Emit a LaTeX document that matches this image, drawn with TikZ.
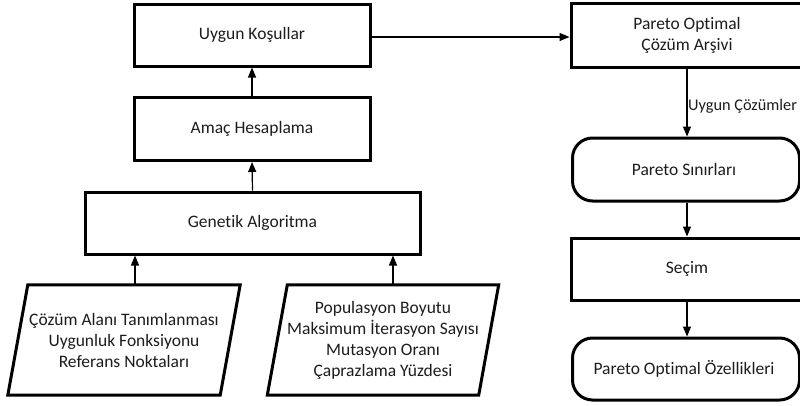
\documentclass[tikz,border=0pt]{standalone}
\usepackage{fontspec}
\setmainfont{Carlito}[Ligatures={NoCommon}]
\usetikzlibrary{arrows.meta}
\definecolor{txt}{HTML}{1C1C1C}
\tikzset{
  box/.style={draw, line width=3pt, inner sep=0pt, align=center, text=txt,
    font=\fontsize{17.5}{21}\selectfont},
  rectbox/.style={box, rectangle},
  roundbox/.style={box, rectangle, rounded corners=20pt},
  databox/.style={rectangle, inner sep=0pt, align=center, text=txt,
    font=\fontsize{17.5}{21}\selectfont},
  para/.style={line width=3pt, line join=miter},
  arr/.style={line width=1.2pt, -{Triangle[length=10pt,width=8pt]}},
}
\begin{document}
\begin{tikzpicture}[x=1pt, y=-1pt]
\useasboundingbox (0,0) rectangle (800,405);
\clip (0,0) rectangle (800,405);

% left column
\node[rectbox, minimum width=236pt, minimum height=62pt] (uk) at (252,35) {Uygun Koşullar};
\node[rectbox, minimum width=236pt, minimum height=63pt] (ah) at (252,129) {Amaç Hesaplama};
\node[rectbox, minimum width=335pt, minimum height=62pt] (ga) at (252.5,223) {Genetik Algoritma};

% input parallelograms
\node[databox, minimum width=212pt, minimum height=110pt] (in1) at (124,340)
  {Çözüm Alanı Tanımlanması\\Uygunluk Fonksiyonu\\Referans Noktaları};
\draw[para] ([xshift=10pt]in1.north west) -- ([xshift=10pt]in1.north east)
  -- ([xshift=-10pt]in1.south east) -- ([xshift=-10pt]in1.south west) -- cycle;

\node[databox, minimum width=211pt, minimum height=110pt] (in2) at (383,340)
  {Populasyon Boyutu\\Maksimum İterasyon Sayısı\\Mutasyon Oranı\\Çaprazlama Yüzdesi};
\draw[para] ([xshift=10pt]in2.north west) -- ([xshift=10pt]in2.north east)
  -- ([xshift=-10pt]in2.south east) -- ([xshift=-10pt]in2.south west) -- cycle;

% right column
\node[rectbox, minimum width=232pt, minimum height=64pt] (pa) at (687,35) {Pareto Optimal\\Çözüm Arşivi};
\node[roundbox, minimum width=227pt, minimum height=63pt, anchor=west] (ps) at (571,169.5) {\hspace*{-4pt}Pareto Sınırları};
\node[rectbox, minimum width=232pt, minimum height=62pt] (se) at (687,269) {Seçim};
\node[roundbox, minimum width=227pt, minimum height=62pt, anchor=west] (po) at (571,369) {\hspace*{-4pt}Pareto Optimal Özellikleri};

% connectors
\draw[arr] ([xshift=11pt]in1.north) -- ([xshift=11pt]in1.north |- ga.south);
\draw[arr] ([xshift=10pt]in2.north) -- ([xshift=10pt]in2.north |- ga.south);
\draw[arr] (ga.north) -- (ah.south);
\draw[arr] (ah.north) -- (uk.south);
\draw[arr] ([yshift=-2pt]uk.east) -- ([yshift=-2pt]uk.east -| pa.west);
\draw[arr] (pa.south) -- (pa.south |- ps.north)
  node[pos=0.55, right, inner sep=0.6pt, text=txt, font=\fontsize{16.3}{20}\selectfont] (lbl) {Uygun Çözümler};
\draw[arr] (pa.south |- ps.south) -- (pa.south |- se.north);
\draw[arr] (se.south) -- (se.south |- po.north);
\end{tikzpicture}
\end{document}
